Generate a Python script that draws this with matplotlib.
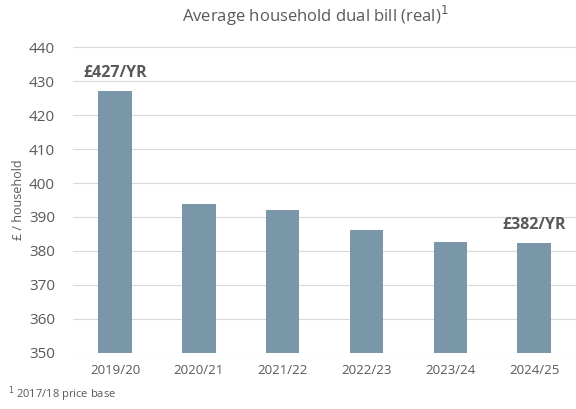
import matplotlib.pyplot as plt
import matplotlib as mpl

mpl.rcParams['font.family'] = ['Open Sans', 'DejaVu Sans']

years = ['2019/20', '2020/21', '2021/22', '2022/23', '2023/24', '2024/25']
bills = [427.2, 393.7, 392.1, 386.1, 382.7, 382.3]
yticks = [350, 360, 370, 380, 390, 400, 410, 420, 430, 440]
callouts = {0: '£427/YR', 5: '£382/YR'}

text_col = '#595959'
bar_col = '#7A96A9'

fig = plt.figure(figsize=(5.76, 4.09), dpi=100)
ax = fig.add_axes([0.127, 0.138, 0.873, 0.746])

x = list(range(len(years)))
ax.bar(x, [b - 350 for b in bills], bottom=350, width=0.4, color=bar_col, zorder=3)

ax.set_xlim(-0.5, len(years) - 0.5)
ax.set_ylim(350, 440)
ax.set_yticks(yticks)
ax.set_xticks(x)
ax.set_xticklabels(years)
ax.tick_params(axis='both', length=0, colors=text_col)
ax.tick_params(axis='y', labelsize=11, pad=13)
ax.tick_params(axis='x', labelsize=9.5, pad=8)
ax.grid(axis='y', color='#D9D9D9', linewidth=0.8, zorder=0)
for s in ax.spines.values():
    s.set_visible(False)

ax.set_ylabel('£ / household', fontsize=9, color=text_col, labelpad=3)

for i, lab in callouts.items():
    ax.text(i, bills[i] + 3.0, lab, ha='center', va='bottom', fontsize=11.5,
            fontweight='bold', color=text_col)

fig.text(0.547, 0.962, 'Average household dual bill (real)$^1$', ha='center',
         va='center', fontsize=12, color=text_col)
fig.text(0.014, 0.035, '$^1$ 2017/18 price base', ha='left', va='center',
         fontsize=8, color=text_col)

plt.savefig('out.png', dpi=100)
plt.close()
